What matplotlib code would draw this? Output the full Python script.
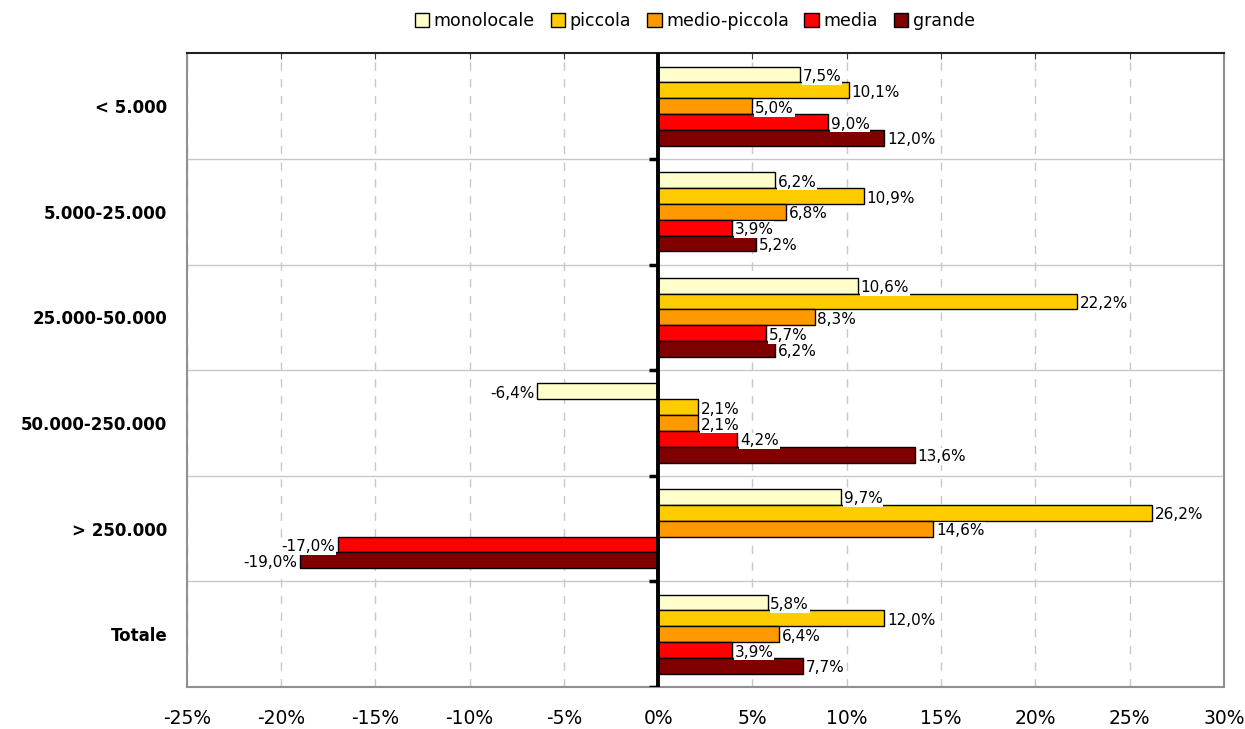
import numpy as np
import matplotlib.pyplot as plt

plt.rcParams.update({"font.family": "DejaVu Sans", "axes.unicode_minus": False})

categories = ["< 5.000", "5.000-25.000", "25.000-50.000", "50.000-250.000", "> 250.000", "Totale"]
series = ["monolocale", "piccola", "medio-piccola", "media", "grande"]
colors = ["#FFFFCC", "#FFCC00", "#FF9900", "#FF0000", "#800000"]

monolocale = [7.5, 6.2, 10.6, -6.4, 9.7, 5.8]
piccola = [10.1, 10.9, 22.2, 2.1, 26.2, 12.0]
medio_piccola = [5.0, 6.8, 8.3, 2.1, 14.6, 6.4]
media = [9.0, 3.9, 5.7, 4.2, -17.0, 3.9]
grande = [12.0, 5.2, 6.2, 13.6, -19.0, 7.7]
values = [monolocale, piccola, medio_piccola, media, grande]

xticks = np.arange(-25, 31, 5)

fig = plt.figure(figsize=(12.45, 7.29), dpi=100)
ax = fig.add_axes([0.150, 0.0576, 0.833, 0.8692])

y = np.arange(len(categories))
h = 0.15
for k, (name, vals, col) in enumerate(zip(series, values, colors)):
    pos = y + (k - 2) * h
    ax.barh(pos, vals, height=h, color=col, edgecolor="black", linewidth=1.0, label=name, zorder=3)
    for yy, v in zip(pos, vals):
        txt = f"{v:.1f}%".replace(".", ",")
        if v >= 0:
            ax.annotate(txt, (v, yy), xytext=(2, -1.5), textcoords="offset points",
                        ha="left", va="center", fontsize=11, zorder=5,
                        bbox=dict(boxstyle="square,pad=0.05", fc="white", ec="none"))
        else:
            ax.annotate(txt, (v, yy), xytext=(-2, -1.5), textcoords="offset points",
                        ha="right", va="center", fontsize=11, zorder=5,
                        bbox=dict(boxstyle="square,pad=0.05", fc="white", ec="none"))

ax.set_xlim(-25, 30)
ax.set_ylim(len(categories) - 0.5, -0.5)
ax.set_xticks(xticks)
ax.set_xticklabels([f"{t}%" for t in xticks], fontsize=13.5)
ax.set_yticks(y)
ax.set_yticklabels(categories, fontsize=12, fontweight="bold")
ax.tick_params(axis="y", length=0, pad=14)
ax.tick_params(axis="x", bottom=False, top=True, direction="in", length=4,
               color="#404040", pad=16, labelbottom=True)

# grid and separators
ax.grid(axis="x", linestyle=(0, (6, 6)), color="#c8c8c8", linewidth=1, zorder=0)
bounds = np.arange(0.5, len(categories) - 0.5, 1)
ax.hlines(bounds, -25, 30, color="#c8c8c8", linewidth=1, zorder=1)
ax.axvline(0, color="black", linewidth=2.8, zorder=4)
ax.hlines(np.append(bounds, len(categories) - 0.5), -0.5, 0, color="black", linewidth=2.5, zorder=4)

for s in ["left", "right", "bottom"]:
    ax.spines[s].set_color("#909090")
    ax.spines[s].set_linewidth(1.5)
ax.spines["top"].set_color("#202020")
ax.spines["top"].set_linewidth(1.5)

fig.legend(loc="upper center", bbox_to_anchor=(0.558, 1.005), ncol=5, frameon=False,
           fontsize=12.5, handlelength=0.85, handleheight=0.85, handletextpad=0.25,
           columnspacing=0.9)

fig.savefig("out.png", dpi=100)
